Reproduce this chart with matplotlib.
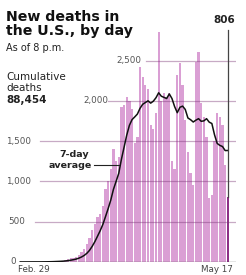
import matplotlib
matplotlib.use("Agg")
import matplotlib.pyplot as plt
import numpy as np
import pandas as pd

# ---- data ----
start_label = "Feb. 29"
end_label = "May 17"
deaths = [
    1, 0, 1, 1, 2, 2, 1, 1, 3, 4,
    4, 7, 8, 10, 11, 13, 18, 25, 35, 45,
    55, 65, 90, 120, 160, 220, 300, 400, 470, 560,
    600, 700, 900, 1000, 1150, 1400, 1250, 1300, 1920, 1950,
    2050, 2000, 1900, 1480, 1550, 2420, 2300, 2200, 2150, 1700,
    1650, 1850, 2850, 2000, 2100, 2050, 2100, 1250, 1150, 2320,
    2470, 2200, 1760, 1360, 1100, 950, 2480, 2600, 1970, 1800,
    1550, 800, 830, 1500, 1850, 1800, 1700, 1200, 806,
]
y_ticks = [0, 500, 1000, 1500, 2000, 2500]
y_tick_labels = ["0", "500", "1,000", "1,500", "2,000", "2,500"]
cumulative = "88,454"

W, H = 246, 275
fig = plt.figure(figsize=(W / 100, H / 100), dpi=100)

# axes placement in pixels
ax_left, ax_right = 19, 235.8
ax_top, ax_bottom = 28.3, 262
ax = fig.add_axes([ax_left / W, 1 - ax_bottom / H, (ax_right - ax_left) / W, (ax_bottom - ax_top) / H])
ax.set_xlim(-0.5, 81.0)
ax.set_ylim(0, 2900)
ax.axis("off")

def px2x(px):
    return -0.5 + (px - ax_left) / ((ax_right - ax_left) / 81.5)

n = len(deaths)
idx = np.arange(n)
colors = ["#da9fd4"] * (n - 1) + ["#8d2f86"]
ax.bar(idx, deaths, width=0.86, color=colors, linewidth=0, zorder=2)

# gridlines
grid_start_px = {0: 18, 500: 35, 1000: 40, 1500: 40, 2000: 108, 2500: 146}
label_x_px = {0: 10, 500: 8, 1000: 6, 1500: 6, 2000: 83, 2500: 116}
for v, lab in zip(y_ticks, y_tick_labels):
    if v == 0:
        ax.plot([px2x(grid_start_px[v]), px2x(236)], [0, 0], color="#333333", lw=0.9, zorder=4)
    else:
        ax.plot([px2x(grid_start_px[v]), px2x(236)], [v, v], color="#7a3575", lw=0.9, alpha=0.42, zorder=3)
    ax.text(px2x(label_x_px[v]), v, lab, ha="left", va="center", fontsize=6.3, color="#555555",
            zorder=5)

# 7-day average
avg = pd.Series(deaths, dtype=float).rolling(7, min_periods=1).mean()
ax.plot(idx, avg, color="#111111", lw=1.1, zorder=5)

# last value marker line and label
ax.plot([n - 1, n - 1], [deaths[-1], 2880], color="#444444", lw=0.9, zorder=5)
ax.text(n - 2.2, 2880 + 60, str(deaths[-1]), ha="center", va="bottom", fontsize=7.5,
        fontweight="bold", color="#222222")

# 7-day annotation
ax.text(px2x(74), 1280, "7-day", ha="center", va="bottom", fontsize=6.8, fontweight="bold", color="#222222")
ax.text(px2x(92), 1200, "average", ha="right", va="center", fontsize=6.8, fontweight="bold", color="#222222")
ax.plot([px2x(94), px2x(118.5)], [1200, 1200], color="#222222", lw=0.8, zorder=5)

def fx(px):
    return px / W

def fy(py):
    return 1 - py / H

# title block
fig.text(fx(6), fy(21), "New deaths in", fontsize=10.2, fontweight="bold", color="#111111", va="baseline")
fig.text(fx(6), fy(35), "the U.S., by day", fontsize=10.2, fontweight="bold", color="#111111", va="baseline")
fig.text(fx(6), fy(51), "As of 8 p.m.", fontsize=7, color="#222222", va="baseline")
fig.text(fx(6), fy(80), "Cumulative", fontsize=7.5, color="#222222", va="baseline")
fig.text(fx(6), fy(91), "deaths", fontsize=7.5, color="#222222", va="baseline")
fig.text(fx(6), fy(103), cumulative, fontsize=7.5, fontweight="bold", color="#222222", va="baseline")

# x labels
fig.text(fx(18), fy(272), start_label, fontsize=6.3, color="#444444", va="baseline", ha="left")
fig.text(fx(233), fy(272), end_label, fontsize=6.3, color="#444444", va="baseline", ha="right")

fig.savefig("out.png", dpi=100, facecolor="white")
